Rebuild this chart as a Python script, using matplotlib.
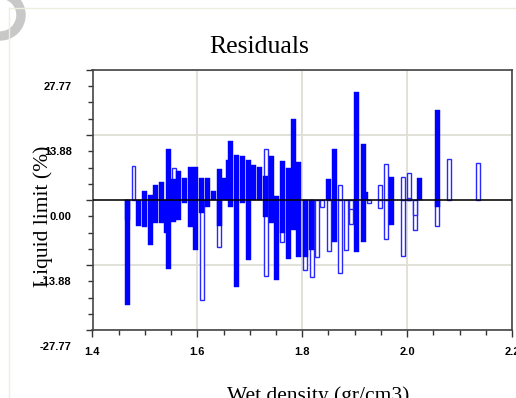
import matplotlib
matplotlib.use("Agg")
import matplotlib.pyplot as plt
import matplotlib.transforms as mtransforms
from matplotlib.patches import Wedge
from matplotlib.lines import Line2D

# filled residual bars (wet density, residual)
filled_x = [1.4662, 1.4662, 1.4878, 1.4992, 1.4992, 1.5107, 1.5107, 1.5210, 1.5210,
            1.5311, 1.5311, 1.5406, 1.5445, 1.5445, 1.5546, 1.5546, 1.5635, 1.5635,
            1.5756, 1.5756, 1.5870, 1.5870, 1.5966, 1.5966, 1.6080, 1.6080, 1.6189,
            1.6189, 1.6303, 1.6418, 1.6418, 1.6513, 1.6599, 1.6641, 1.6641, 1.6748,
            1.6748, 1.6857, 1.6857, 1.6971, 1.6971, 1.7073, 1.7176, 1.7302, 1.7302,
            1.7405, 1.7405, 1.7506, 1.7506, 1.7620, 1.7620, 1.7729, 1.7729, 1.7830,
            1.7830, 1.7931, 1.7931, 1.8053, 1.8179, 1.8504, 1.8613, 1.8613, 1.9038,
            1.9038, 1.9160, 1.9160, 1.9204, 1.9695, 1.9695, 2.0244, 2.0573, 2.0573]
filled_val = [-22.4, -4.3, -5.6, 1.9, -5.8, 1.1, -9.6, 3.2, -5.0,
              3.8, -5.0, -7.1, 11.0, -14.7, 4.5, -4.6, 6.3, -4.3,
              4.6, -0.6, 7.0, -5.7, 7.0, -10.7, 4.6, -2.8, 4.6,
              -1.4, 1.9, 6.6, -5.6, 4.8, 8.5, 12.7, -1.4, 9.6,
              -18.5, 9.3, -0.7, 8.5, -12.8, 7.5, 7.0, 5.2, -3.7,
              9.5, -5.0, 0.9, -17.1, 8.4, -7.1, 6.8, -12.5, 17.2,
              -6.4, 8.2, -12.1, -12.2, -10.7, 4.4, 10.9, -8.9, 23.1,
              -11.2, 12.0, -8.9, 1.8, 5.0, -5.3, 4.8, 19.2, -1.6]

# hollow residual bars
hollow_x = [1.4782, 1.5546, 1.6080, 1.6418, 1.7302, 1.7302, 1.7620, 1.8053, 1.8179,
            1.8282, 1.8384, 1.8504, 1.8714, 1.8714, 1.8828, 1.8937, 1.8937, 1.9267,
            1.9490, 1.9490, 1.9599, 1.9599, 1.9916, 1.9916, 2.0038, 2.0038, 2.0145,
            2.0145, 2.0573, 2.0794, 2.1347]
hollow_val = [7.3, 6.8, -21.4, -10.0, 10.8, -16.2, -8.9, -15.0, -16.4,
              -12.2, -1.4, -11.0, 3.3, -15.5, -10.7, -5.2, -2.0, -0.7,
              3.1, -1.8, 7.6, -8.4, 5.0, -12.0, 5.8, 0.4, -6.4,
              -3.3, -5.5, 8.8, 7.9]

x_ticks = [1.4, 1.6, 1.8, 2.0, 2.2]
x_labels = ["1.4", "1.6", "1.8", "2.0", "2.2"]
y_ticks = [-27.77, -13.88, 0.0, 13.88, 27.77]
y_labels = ["-27.77", "-13.88", "0.00", "13.88", "27.77"]

fig = plt.figure(figsize=(5.16, 3.98), dpi=100)

# slide decoration
fig.add_artist(Line2D([9 / 516, 1], [1 - 8 / 398] * 2, color="#eeeee0", lw=1))
fig.add_artist(Line2D([9 / 516] * 2, [0, 1 - 8 / 398], color="#eeeee0", lw=1))
ring = Wedge((0, 398 - 15), 25, -90, 90, width=8, color="#c8c8c8")
ring.set_transform(mtransforms.IdentityTransform())
fig.add_artist(ring)

ax = fig.add_axes([92.5 / 516, 1 - 330 / 398, (512 - 92.5) / 516, 260 / 398])

ax.bar(hollow_x, hollow_val, width=0.0075, color="white", edgecolor="#2828ff",
       linewidth=1, zorder=2)
ax.bar(filled_x, filled_val, width=0.0095, color="#0000ff", edgecolor="#0000ff",
       linewidth=0.3, zorder=3)
ax.axhline(0, color="black", lw=1.1, zorder=4)

ax.set_xlim(1.4, 2.2)
ax.set_ylim(-27.77, 27.77)
ax.set_xticks(x_ticks)
ax.set_xticklabels(x_labels, fontfamily="Liberation Sans", fontweight="bold", fontsize=8)
ax.set_xticks([1.45, 1.5, 1.55, 1.65, 1.7, 1.75, 1.85, 1.9, 1.95, 2.05, 2.1, 2.15], minor=True)
ax.set_yticks(y_ticks)
ax.set_yticklabels(y_labels, fontfamily="Liberation Sans", fontweight="bold", fontsize=8)
ax.set_yticks([27.77 * k / 8 for k in range(-8, 9) if k % 4 != 0], minor=True)

ax.tick_params(axis="both", which="major", direction="out", length=5, width=1, color="#333333")
ax.tick_params(axis="both", which="minor", direction="out", length=3.5, width=1, color="#333333")
ax.tick_params(axis="y", which="major", pad=10)
ax.tick_params(axis="x", which="major", pad=7.5)

# y labels sit one minor step below their ticks in the original
shift = mtransforms.ScaledTranslation(0, -16 / 100, fig.dpi_scale_trans)
for lab in ax.get_yticklabels():
    lab.set_transform(lab.get_transform() + shift)

ax.grid(True, which="major", color="#deded6", lw=1.3, zorder=0)
ax.set_axisbelow(True)
for s in ax.spines.values():
    s.set_color("#444444")
    s.set_linewidth(1.2)

fig.text(259.5 / 516, 1 - 53 / 398, "Residuals", ha="center", va="baseline",
         fontfamily="Liberation Serif", fontsize=18.5)
fig.text(43 / 516, 1 - 216 / 398, "Liquid limit (%)", ha="center", va="center",
         rotation=90, fontfamily="Liberation Serif", fontsize=15.5)
fig.text(318 / 516, 1 - 401 / 398, "Wet density (gr/cm3)", ha="center", va="baseline",
         fontfamily="Liberation Serif", fontsize=15.5)

fig.savefig("out.png", dpi=100)
